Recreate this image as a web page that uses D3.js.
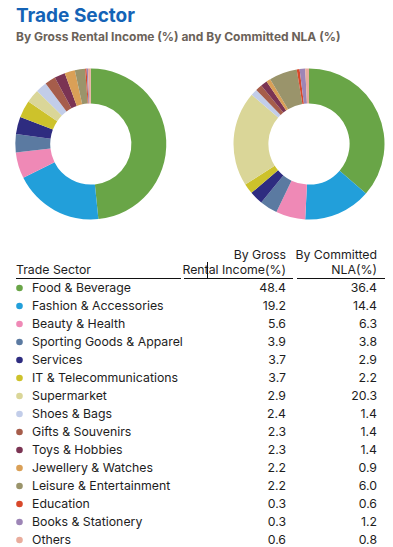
<!DOCTYPE html>
<html>
<head>
<meta charset="utf-8">
<script src="https://cdn.jsdelivr.net/npm/d3@7"></script>
<style>
  body { margin: 0; background: #fff; }
  svg { display: block; font-family: Inter, "Noto Sans", sans-serif; }
</style>
</head>
<body>
<svg id="chart" width="393" height="547"></svg>
<script>
// trade sectors, in slice order (clockwise from 12 o'clock)
const sectors = ["Food & Beverage", "Fashion & Accessories", "Beauty & Health", "Sporting Goods & Apparel",
  "Services", "IT & Telecommunications", "Supermarket", "Shoes & Bags", "Gifts & Souvenirs",
  "Toys & Hobbies", "Jewellery & Watches", "Leisure & Entertainment", "Education",
  "Books & Stationery", "Others"];
const grossRental = [48.4, 19.2, 5.6, 3.9, 3.7, 3.7, 2.9, 2.4, 2.3, 2.3, 2.2, 2.2, 0.3, 0.3, 0.6];
const committedNLA = [36.4, 14.4, 6.3, 3.8, 2.9, 2.2, 20.3, 1.4, 1.4, 1.4, 0.9, 6.0, 0.6, 1.2, 0.8];
const colors = ["#69a547", "#229fda", "#ef89b6", "#5b7aa1", "#2e2c80", "#cdc22b", "#dad698",
  "#c2cde9", "#a65d4b", "#7b3453", "#daa057", "#9a946b", "#d8482a", "#9d85b6", "#e9ac9c"];

const svg = d3.select("#chart");
const color = d3.scaleOrdinal(sectors, colors);

svg.append("text").attr("x", 16).attr("y", 22)
  .attr("font-size", 19).attr("font-weight", 700).attr("fill", "#1463b6")
  .text("Trade Sector");
svg.append("text").attr("x", 16).attr("y", 41)
  .attr("font-size", 12).attr("font-weight", 700).attr("fill", "#6b6259")
  .text("By Gross Rental Income (%) and By Committed NLA (%)");

// donuts
const pie = d3.pie().sort(null).value(d => d.v);
const arc = d3.arc().innerRadius(40.6).outerRadius(75.5);

function donut(cx, cy, values) {
  const g = svg.append("g").attr("transform", `translate(${cx},${cy})`);
  g.selectAll("path")
    .data(pie(sectors.map((s, i) => ({ s, v: values[i] }))))
    .join("path")
    .attr("d", arc)
    .attr("fill", d => color(d.data.s));
}
donut(90.8, 144, grossRental);
donut(309, 144, committedNLA);

// table
const col1 = 286, col2 = 377;
const head = svg.append("g").attr("font-size", 12.3).attr("fill", "#1d1d1d");
head.append("text").attr("x", 16).attr("y", 274).text("Trade Sector");
head.append("text").attr("x", col1).attr("y", 259).attr("text-anchor", "end").text("By Gross");
head.append("text").attr("x", col1).attr("y", 274).attr("text-anchor", "end").text("Rental Income(%)");
head.append("text").attr("x", col2).attr("y", 259).attr("text-anchor", "end").text("By Committed");
head.append("text").attr("x", col2).attr("y", 274).attr("text-anchor", "end").text("NLA(%)");

[[16, 181], [184, 293], [297, 385]].forEach(([a, b]) => {
  svg.append("line").attr("x1", a).attr("x2", b).attr("y1", 278.5).attr("y2", 278.5)
    .attr("stroke", "#111").attr("stroke-width", 1);
});
// stray text cursor visible in the source image
svg.append("line").attr("x1", 207.5).attr("x2", 207.5).attr("y1", 262).attr("y2", 278)
  .attr("stroke", "#111").attr("stroke-width", 1);

const y = d3.scalePoint().domain(sectors).range([288, 540]);
const rows = svg.append("g").attr("font-size", 12.3).attr("fill", "#1d1d1d")
  .selectAll("g").data(sectors).join("g")
  .attr("transform", d => `translate(0,${y(d)})`);
rows.append("circle").attr("cx", 19.5).attr("cy", 0).attr("r", 3.3).attr("fill", d => color(d));
rows.append("text").attr("x", 32).attr("dy", "0.35em").text(d => d);
rows.append("text").attr("x", col1).attr("dy", "0.35em").attr("text-anchor", "end")
  .text((d, i) => grossRental[i].toFixed(1));
rows.append("text").attr("x", col2).attr("dy", "0.35em").attr("text-anchor", "end")
  .text((d, i) => committedNLA[i].toFixed(1));
</script>
</body>
</html>
